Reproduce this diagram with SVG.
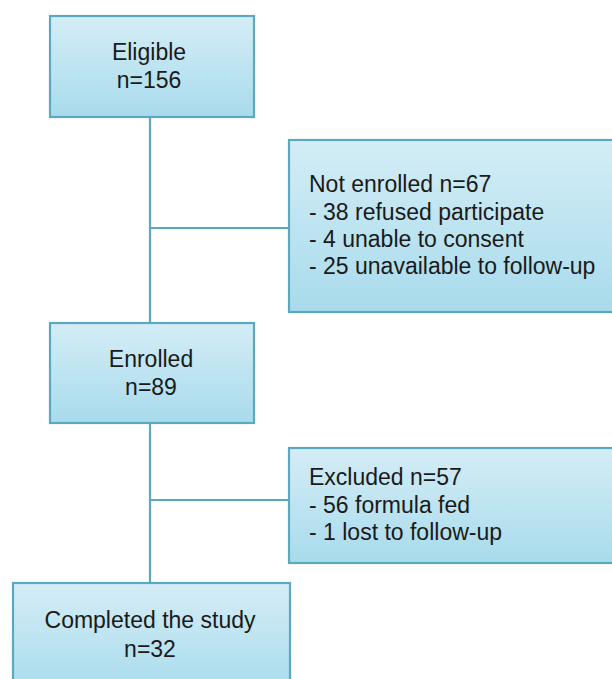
<svg xmlns="http://www.w3.org/2000/svg" width="612" height="679" viewBox="0 0 612 679">
<defs>
<linearGradient id="g" x1="0" y1="0" x2="0" y2="1">
<stop offset="0" stop-color="#d4edf6"/>
<stop offset="1" stop-color="#a8dbec"/>
</linearGradient>
<style>
.box{fill:url(#g);stroke:#5ba9c0;stroke-width:2.2}
.ln{stroke:#5ba9c0;stroke-width:2.2;fill:none}
text{font-family:"Liberation Sans",Arial,sans-serif;font-size:23px;fill:#1a1a1a}
.c{text-anchor:middle}
</style>
</defs>
<rect width="612" height="679" fill="#ffffff"/>
<g id="connectors">
<line class="ln" x1="150" y1="117" x2="150" y2="323"/>
<line class="ln" x1="150" y1="228" x2="289" y2="228"/>
<line class="ln" x1="150" y1="423" x2="150" y2="583"/>
<line class="ln" x1="150" y1="500" x2="289" y2="500"/>
</g>
<g id="eligible">
<rect class="box" x="50" y="16" width="204" height="101"/>
<text class="c" x="149" y="60">Eligible</text>
<text class="c" x="149" y="88">n=156</text>
</g>
<g id="not-enrolled">
<rect class="box" x="289" y="140" width="330" height="172"/>
<text x="309" y="192">Not enrolled n=67</text>
<text x="309" y="220">- 38 refused participate</text>
<text x="309" y="247">- 4 unable to consent</text>
<text x="309" y="274">- 25 unavailable to follow-up</text>
</g>
<g id="enrolled">
<rect class="box" x="50" y="323" width="204" height="100"/>
<text class="c" x="151" y="367">Enrolled</text>
<text class="c" x="151" y="395">n=89</text>
</g>
<g id="excluded">
<rect class="box" x="289" y="448" width="330" height="115"/>
<text x="309" y="485">Excluded n=57</text>
<text x="309" y="513">- 56 formula fed</text>
<text x="309" y="540">- 1 lost to follow-up</text>
</g>
<g id="completed">
<rect class="box" x="13" y="583" width="277" height="110"/>
<text class="c" x="150" y="628">Completed the study</text>
<text class="c" x="150" y="657">n=32</text>
</g>
</svg>
